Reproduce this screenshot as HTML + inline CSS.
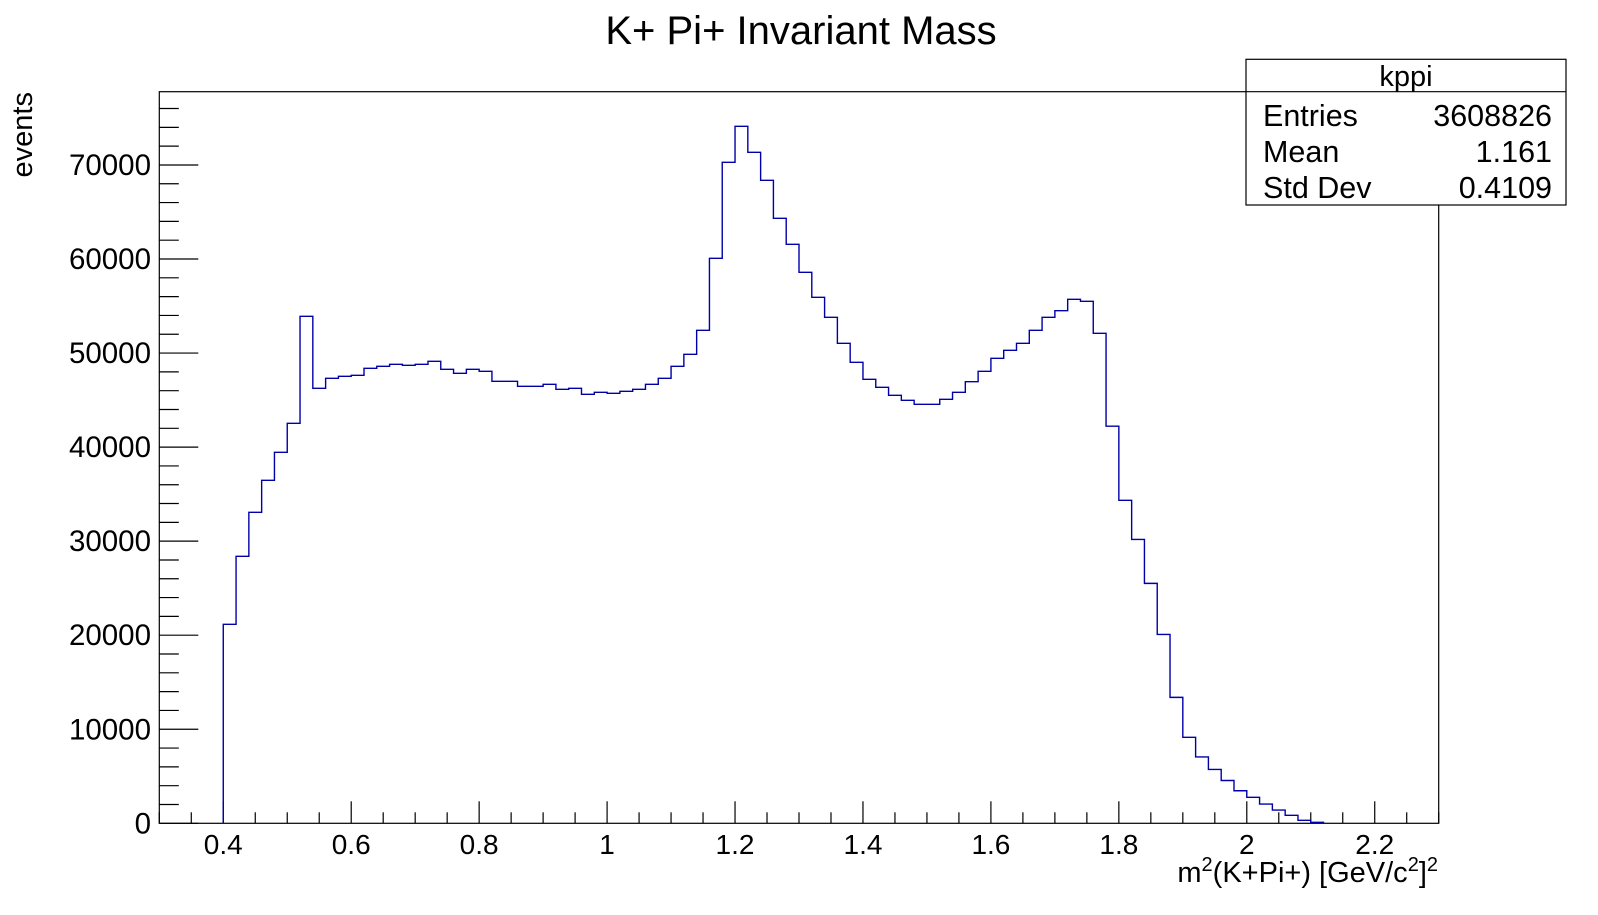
<!DOCTYPE html>
<html><head><meta charset="utf-8"><style>
body{margin:0;background:#fff;}
svg{display:block;font-family:"Liberation Sans",Arial,sans-serif;}
</style></head><body>
<svg id="chart" width="1598" height="915" xmlns="http://www.w3.org/2000/svg">
<text x="801" y="44" font-size="40" text-anchor="middle">K+ Pi+ Invariant Mass</text>
<rect x="159.3" y="91.7" width="1279.4" height="731.6" fill="none" stroke="#000" stroke-width="1.2"/>
<g id="ticks"></g>
<path id="hist" fill="none" stroke="#0000a8" stroke-width="1.4"/>
<text transform="translate(32,92) rotate(-90)" font-size="29" text-anchor="end">events</text>
<text x="1438" y="882" font-size="29" text-anchor="end">m<tspan font-size="20" dy="-11">2</tspan><tspan dy="11">(K+Pi+) [GeV/c</tspan><tspan font-size="20" dy="-11">2</tspan><tspan dy="11">]</tspan><tspan font-size="20" dy="-11">2</tspan></text>
<g>
<rect x="1246" y="59.3" width="320" height="145.7" fill="#fff" stroke="#000" stroke-width="1.2"/>
<line x1="1246" y1="91.7" x2="1566" y2="91.7" stroke="#000" stroke-width="1.2"/>
<text x="1406" y="86" font-size="29" text-anchor="middle">kppi</text>
<text x="1263" y="126" font-size="30.5">Entries</text>
<text x="1552" y="126" font-size="30.5" text-anchor="end">3608826</text>
<text x="1263" y="162" font-size="30.5">Mean</text>
<text x="1552" y="162" font-size="30.5" text-anchor="end">1.161</text>
<text x="1263" y="198" font-size="30.5">Std Dev</text>
<text x="1552" y="198" font-size="30.5" text-anchor="end">0.4109</text>
</g>
</svg>
<script>
const binStart = 0.40;
const binWidth = 0.02;
const counts = [21160,28390,33070,36470,39450,42530,53910,46250,47320,47530,47630,48380,48590,48800,48700,48800,49120,48270,47850,48270,48060,47000,47000,46460,46460,46680,46150,46250,45610,45830,45720,45930,46150,46680,47320,48590,49870,52420,60070,70280,74110,71350,68370,64330,61560,58590,55930,53800,51040,49020,47210,46360,45510,44980,44550,44550,45080,45830,46960,48060,49440,50290,51040,52420,53800,54510,55710,55500,52100,42220,34340,30180,25510,20080,13390,9140,7060,5730,4550,3460,2760,2050,1410,850,320,100];
const xTickLabels = ["0.4","0.6","0.8","1","1.2","1.4","1.6","1.8","2","2.2"];
const yTickLabels = ["0","10000","20000","30000","40000","50000","60000","70000"];
const xMin=0.3,xMax=2.3,yMin=0,yMax=77790;
const L=159.3,R=1438.7,T=91.7,B=823.3;
const sx=v=>L+(v-xMin)/(xMax-xMin)*(R-L);
const sy=v=>B-(v-yMin)/(yMax-yMin)*(B-T);
let d=`M${sx(binStart)},${sy(0)}`;
counts.forEach((c,i)=>{const x0=sx(binStart+i*binWidth),x1=sx(binStart+(i+1)*binWidth);d+=` L${x0},${sy(c)} L${x1},${sy(c)}`;});
d+=` L${sx(binStart+counts.length*binWidth)},${sy(0)}`;
document.getElementById('hist').setAttribute('d',d);
const g=document.getElementById('ticks');const NS="http://www.w3.org/2000/svg";
function ln(x1,y1,x2,y2){const l=document.createElementNS(NS,'line');l.setAttribute('x1',x1);l.setAttribute('y1',y1);l.setAttribute('x2',x2);l.setAttribute('y2',y2);l.setAttribute('stroke','#000');l.setAttribute('stroke-width','1.2');


g.appendChild(l);}
function tx(x,y,s,anchor,name,fs){const t=document.createElementNS(NS,'text');t.setAttribute('x',x);t.setAttribute('y',y);t.setAttribute('font-size',fs);t.setAttribute('text-anchor',anchor);t.textContent=s;


g.appendChild(t);}
for(let k=0;k<=40;k++){const v=0.3+k*0.05;if(v>xMax+1e-9)break;const major=Math.abs(v*5-Math.round(v*5))<1e-6;const x=sx(v);ln(x,B,x,B-(major?22:11));}
xTickLabels.forEach(s=>{tx(sx(parseFloat(s)),854,s,'middle','x-tick-label','28');});
for(let v=0;v<=yMax;v+=2000){const y=sy(v);ln(L,y,L+(v%10000===0?39:19.5),y);}
yTickLabels.forEach(s=>{tx(151,sy(parseFloat(s))+10,s,'end','y-tick-label','29.5');});
</script>
</body></html>
